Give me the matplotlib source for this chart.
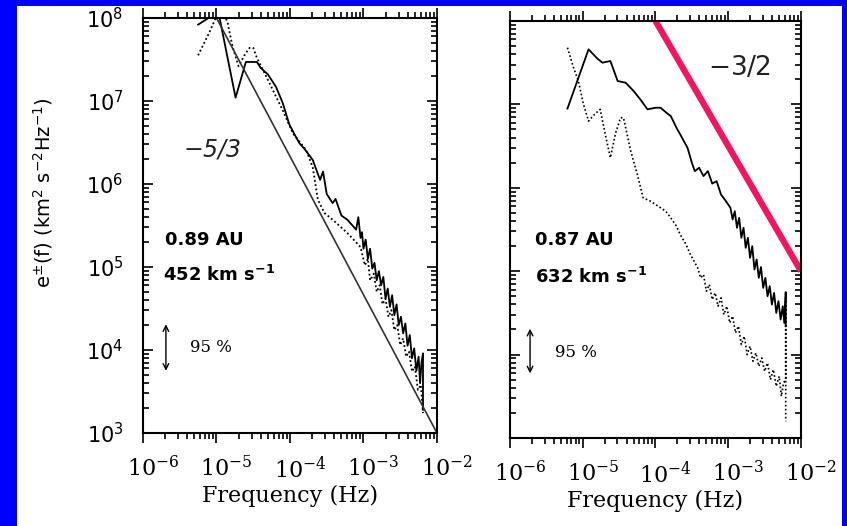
import numpy as np
import matplotlib
matplotlib.use('Agg')
import matplotlib.pyplot as plt
import matplotlib.transforms as mtransforms
from matplotlib.patches import Rectangle

plt.rcParams['mathtext.fontset'] = 'custom'
plt.rcParams['mathtext.rm'] = 'DejaVu Serif'
plt.rcParams['mathtext.sf'] = 'DejaVu Sans'
plt.rcParams['mathtext.bf'] = 'DejaVu Sans:bold'
plt.rcParams['mathtext.it'] = 'DejaVu Sans:italic'

# Elsasser spectra, values as (log10 f, log10 e)
left_solid_logf = [-5.25, -5.02, -4.98, -4.74, -4.60, -4.45, -4.40, -4.30, -4.19, -4.10,
                   -4.01, -3.94, -3.87, -3.80, -3.69, -3.62, -3.59, -3.55, -3.50, -3.42,
                   -3.38, -3.30, -3.22, -3.15, -3.10, -3.07, -3.04, -3.02, -3.00, -2.97,
                   -2.94, -2.91, -2.88, -2.85, -2.82, -2.79, -2.76, -2.73, -2.70, -2.67,
                   -2.64, -2.61, -2.58, -2.55, -2.52, -2.49, -2.46, -2.43, -2.40, -2.37,
                   -2.34, -2.31, -2.28, -2.25, -2.23, -2.21, -2.19, -2.19]
left_solid_loge = [7.92, 8.05, 8.10, 7.04, 7.47, 7.47, 7.40, 7.32, 7.17, 6.98,
                   6.72, 6.60, 6.49, 6.42, 6.29, 6.12, 6.05, 6.15, 5.88, 5.77,
                   5.82, 5.62, 5.57, 5.50, 5.45, 5.60, 5.35, 5.42, 5.22, 5.33,
                   5.10, 5.22, 4.98, 5.05, 4.84, 4.95, 4.78, 4.88, 4.62, 4.74,
                   4.52, 4.66, 4.42, 4.55, 4.30, 4.40, 4.20, 4.32, 4.05, 4.18,
                   3.90, 4.02, 3.75, 3.92, 3.60, 3.85, 3.96, 3.28]

left_dot_logf = [-5.25, -5.10, -5.00, -4.90, -4.85, -4.78, -4.70, -4.62, -4.55, -4.50,
                 -4.45, -4.32, -4.10, -3.96, -3.78, -3.69, -3.62, -3.53, -3.42, -3.22,
                 -3.04, -2.98, -2.94, -2.91, -2.86, -2.82, -2.78, -2.74, -2.70, -2.66,
                 -2.62, -2.58, -2.54, -2.50, -2.46, -2.42, -2.38, -2.34, -2.30, -2.26,
                 -2.22, -2.19]
left_dot_loge = [7.55, 7.82, 8.02, 8.05, 7.95, 7.65, 7.42, 7.55, 7.64, 7.64,
                 7.52, 7.29, 6.89, 6.61, 6.41, 6.20, 5.81, 5.65, 5.57, 5.41,
                 5.24, 5.02, 5.10, 4.84, 4.92, 4.70, 4.78, 4.55, 4.62, 4.40,
                 4.48, 4.24, 4.30, 4.06, 4.14, 3.92, 3.98, 3.74, 3.80, 3.52,
                 3.58, 3.24]

fit_f = [1e-5, 1e-2]
fit_e = [1e8, 1e3]

right_solid_logf = [-5.21, -4.92, -4.80, -4.73, -4.62, -4.52, -4.41, -4.30, -4.20, -4.11,
                    -4.00, -3.93, -3.85, -3.79, -3.70, -3.66, -3.56, -3.50, -3.46, -3.40,
                    -3.34, -3.28, -3.22, -3.16, -3.10, -3.04, -2.97, -2.94, -2.91, -2.88,
                    -2.85, -2.82, -2.79, -2.76, -2.73, -2.70, -2.67, -2.64, -2.61, -2.58,
                    -2.55, -2.52, -2.49, -2.46, -2.43, -2.40, -2.37, -2.34, -2.31, -2.28,
                    -2.25, -2.23, -2.21, -2.21]
right_solid_loge = [6.95, 7.66, 7.55, 7.50, 7.52, 7.28, 7.26, 7.16, 7.05, 6.94,
                    6.96, 6.96, 6.90, 6.86, 6.70, 6.64, 6.48, 6.30, 6.20, 6.24,
                    6.14, 6.20, 6.05, 6.08, 5.92, 5.85, 5.76, 5.62, 5.72, 5.52,
                    5.64, 5.40, 5.52, 5.28, 5.40, 5.16, 5.30, 5.02, 5.14, 4.92,
                    5.05, 4.80, 4.92, 4.70, 4.82, 4.60, 4.74, 4.50, 4.64, 4.42,
                    4.58, 4.38, 4.75, 4.34]

right_dot_logf = [-5.21, -5.13, -5.06, -4.99, -4.92, -4.84, -4.76, -4.69, -4.62, -4.55,
                  -4.48, -4.44, -4.38, -4.34, -4.25, -4.17, -4.07, -3.93, -3.86, -3.79,
                  -3.72, -3.66, -3.58, -3.52, -3.42, -3.38, -3.34, -3.30, -3.26, -3.22,
                  -3.18, -3.14, -3.10, -3.06, -3.02, -2.98, -2.94, -2.90, -2.86, -2.82,
                  -2.78, -2.74, -2.70, -2.66, -2.62, -2.58, -2.54, -2.50, -2.46, -2.42,
                  -2.38, -2.34, -2.30, -2.27, -2.24, -2.21, -2.21, -2.21]
right_dot_loge = [7.68, 7.45, 7.28, 7.00, 6.80, 6.88, 6.94, 6.64, 6.36, 6.65,
                  6.84, 6.84, 6.60, 6.44, 6.16, 5.88, 5.84, 5.76, 5.72, 5.64,
                  5.55, 5.44, 5.32, 5.20, 5.04, 4.92, 4.96, 4.76, 4.84, 4.66,
                  4.74, 4.58, 4.68, 4.48, 4.58, 4.38, 4.46, 4.26, 4.34, 4.12,
                  4.22, 4.00, 4.10, 3.92, 4.02, 3.86, 3.96, 3.80, 3.90, 3.70,
                  3.82, 3.62, 3.74, 3.50, 3.66, 3.70, 4.68, 3.20]

slope_f = [1e-4, 1e-2]
slope_e = [1e8, 1e5]

xticks = [1e-6, 1e-5, 1e-4, 1e-3, 1e-2]
xticklabels = ['$10^{-6}$', '$10^{-5}$', '$10^{-4}$', '$10^{-3}$', '$10^{-2}$']
yticks = [1e3, 1e4, 1e5, 1e6, 1e7, 1e8]
yticklabels = ['$\\mathsf{10^{3}}$', '$\\mathsf{10^{4}}$', '$\\mathsf{10^{5}}$',
               '$\\mathsf{10^{6}}$', '$\\mathsf{10^{7}}$', '$\\mathsf{10^{8}}$']

BLUE = '#0000FF'
PINK = '#F5145F'
DOTS = (0, (1, 1.4))

fig = plt.figure(figsize=(8.47, 5.26), dpi=100, facecolor=BLUE)
fig.patches.append(Rectangle((0.02, 0.0), 0.974, 0.9886, transform=fig.transFigure,
                             facecolor='white', edgecolor='none', zorder=-10))

ax1 = fig.add_axes([0.1688, 0.1768, 0.3471, 0.789])
ax2 = fig.add_axes([0.6021, 0.1673, 0.3436, 0.7928])

# the scan centres the "10" on the tick, so shift labels a bit right
label_shift = mtransforms.ScaledTranslation(10 / 100, 0, fig.dpi_scale_trans)


def style_axes(ax, show_ylabels):
    ax.set_xscale('log')
    ax.set_yscale('log')
    ax.set_xlim(1e-6, 1e-2)
    ax.set_ylim(1e3, 1e8)
    ax.set_facecolor('white')
    for s in ax.spines.values():
        s.set_linewidth(1.5)
    ax.tick_params(which='both', top=True, right=True, direction='out', width=1.2)
    ax.tick_params(which='major', length=7)
    ax.tick_params(which='minor', length=4)
    ax.tick_params(axis='y', which='both', left=True, direction='in', pad=14)
    ax.set_xticks(xticks)
    ax.set_xticklabels(xticklabels, fontsize=16)
    ax.tick_params(axis='x', pad=9)
    for lab in ax.get_xticklabels():
        lab.set_transform(lab.get_transform() + label_shift)
    ax.set_yticks(yticks)
    if show_ylabels:
        ax.set_yticklabels(yticklabels, fontsize=15)
    else:
        ax.set_yticklabels([])
    ax.set_xlabel('Frequency (Hz)', fontsize=16, family='DejaVu Serif', labelpad=2)


style_axes(ax1, True)
style_axes(ax2, False)

# left panel
ax1.plot(10 ** np.array(left_solid_logf), 10 ** np.array(left_solid_loge), color='black', lw=1.3)
ax1.plot(10 ** np.array(left_dot_logf), 10 ** np.array(left_dot_loge), color='black', lw=1.3, linestyle=DOTS)
ax1.plot(fit_f, fit_e, color='#333333', lw=1.2)
ax1.set_ylabel('e$^{\\mathsf{\\pm}}$(f) (km$^{\\mathsf{2}}$ s$^{\\mathsf{-2}}$Hz$^{\\mathsf{-1}}$)', fontsize=14)
ax1.yaxis.set_label_coords(-0.30, 0.58)
ax1.text(0.235, 0.682, '$-$5/3', transform=ax1.transAxes, fontsize=17, style='italic',
         color='#222222', ha='center', va='center', family='DejaVu Sans')
ax1.text(0.075, 0.465, '0.89 AU', transform=ax1.transAxes, fontsize=13, weight='bold', va='center')
ax1.text(0.068, 0.38, '452 km s$^{\\mathbf{-1}}$', transform=ax1.transAxes, fontsize=13,
         weight='bold', va='center')
ax1.annotate('', xy=(0.078, 0.262), xytext=(0.078, 0.150), xycoords='axes fraction',
             arrowprops=dict(arrowstyle='<->', lw=1.0, color='black', shrinkA=0, shrinkB=0))
ax1.text(0.16, 0.205, '95 %', transform=ax1.transAxes, fontsize=12, family='DejaVu Serif', va='center')

# right panel
ax2.plot(10 ** np.array(right_solid_logf), 10 ** np.array(right_solid_loge), color='black', lw=1.3)
ax2.plot(10 ** np.array(right_dot_logf), 10 ** np.array(right_dot_loge), color='black', lw=1.2, linestyle=DOTS)
ax2.plot(slope_f, slope_e, color=PINK, lw=4.5, solid_capstyle='butt')
ax2.text(0.79, 0.887, '$-$3/2', transform=ax2.transAxes, fontsize=19, color='#222222',
         ha='center', va='center', family='DejaVu Sans')
ax2.text(0.086, 0.475, '0.87 AU', transform=ax2.transAxes, fontsize=13, weight='bold', va='center')
ax2.text(0.086, 0.386, '632 km s$^{\\mathbf{-1}}$', transform=ax2.transAxes, fontsize=13,
         weight='bold', va='center')
ax2.annotate('', xy=(0.069, 0.262), xytext=(0.069, 0.155), xycoords='axes fraction',
             arrowprops=dict(arrowstyle='<->', lw=1.0, color='black', shrinkA=0, shrinkB=0))
ax2.text(0.155, 0.205, '95 %', transform=ax2.transAxes, fontsize=12, family='DejaVu Serif', va='center')

fig.savefig('out.png', dpi=100, facecolor=BLUE)
